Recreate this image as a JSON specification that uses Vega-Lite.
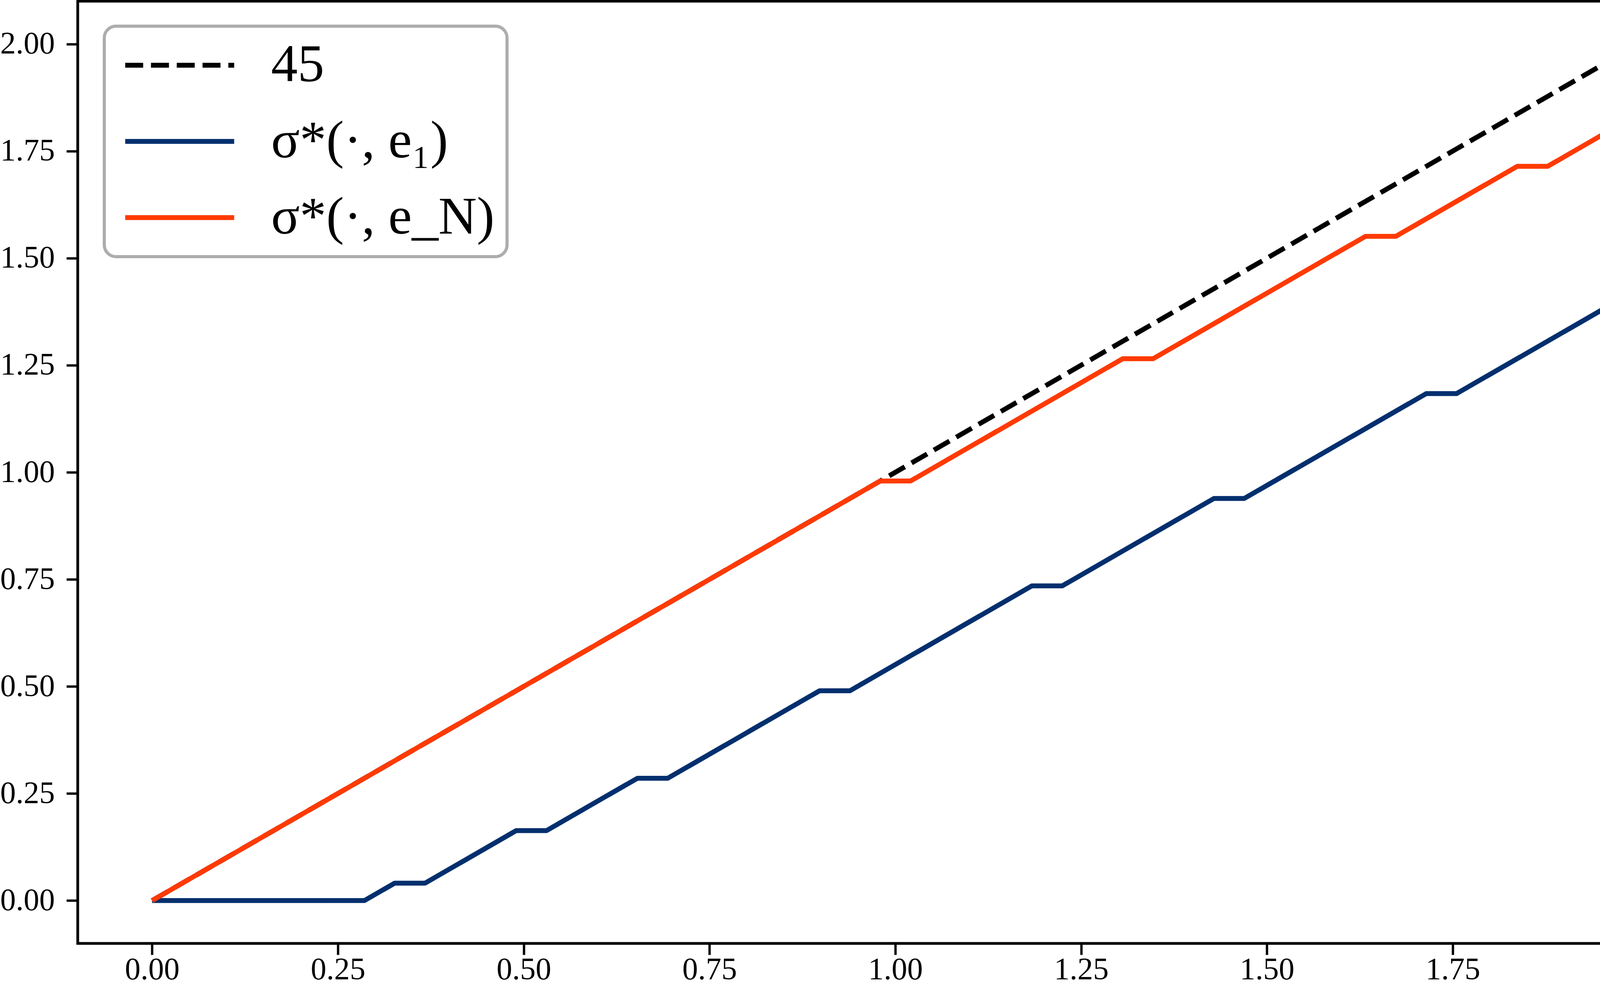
{
  "$schema": "https://vega.github.io/schema/vega-lite/v6.json",
  "description": "45 degree line against sigma*(., e_1) and sigma*(., e_N).",
  "autosize": {"type": "fit", "contains": "padding"},
  "width": 4392,
  "height": 2524,
  "padding": {"left": 0, "top": 3, "right": 7, "bottom": 2},
  "background": "white",
  "config": {
    "font": "Liberation Serif",
    "view": {"stroke": "black", "strokeWidth": 7},
    "axis": {
      "domain": false,
      "grid": false,
      "labelFont": "Liberation Serif",
      "labelFontSize": 80,
      "labelColor": "black",
      "tickColor": "black",
      "tickSize": 29,
      "tickWidth": 6,
      "title": null
    },
    "axisX": {"labelPadding": 62, "labelBaseline": "alphabetic"},
    "axisY": {"labelPadding": 30}
  },
  "data": {
    "values": [
      {"x": 0, "y": 0, "s": "45"},
      {"x": 0.0408, "y": 0.0408, "s": "45"},
      {"x": 0.0816, "y": 0.0816, "s": "45"},
      {"x": 0.1224, "y": 0.1224, "s": "45"},
      {"x": 0.1633, "y": 0.1633, "s": "45"},
      {"x": 0.2041, "y": 0.2041, "s": "45"},
      {"x": 0.2449, "y": 0.2449, "s": "45"},
      {"x": 0.2857, "y": 0.2857, "s": "45"},
      {"x": 0.3265, "y": 0.3265, "s": "45"},
      {"x": 0.3673, "y": 0.3673, "s": "45"},
      {"x": 0.4082, "y": 0.4082, "s": "45"},
      {"x": 0.449, "y": 0.449, "s": "45"},
      {"x": 0.4898, "y": 0.4898, "s": "45"},
      {"x": 0.5306, "y": 0.5306, "s": "45"},
      {"x": 0.5714, "y": 0.5714, "s": "45"},
      {"x": 0.6122, "y": 0.6122, "s": "45"},
      {"x": 0.6531, "y": 0.6531, "s": "45"},
      {"x": 0.6939, "y": 0.6939, "s": "45"},
      {"x": 0.7347, "y": 0.7347, "s": "45"},
      {"x": 0.7755, "y": 0.7755, "s": "45"},
      {"x": 0.8163, "y": 0.8163, "s": "45"},
      {"x": 0.8571, "y": 0.8571, "s": "45"},
      {"x": 0.898, "y": 0.898, "s": "45"},
      {"x": 0.9388, "y": 0.9388, "s": "45"},
      {"x": 0.9796, "y": 0.9796, "s": "45"},
      {"x": 1.0204, "y": 1.0204, "s": "45"},
      {"x": 1.0612, "y": 1.0612, "s": "45"},
      {"x": 1.102, "y": 1.102, "s": "45"},
      {"x": 1.1429, "y": 1.1429, "s": "45"},
      {"x": 1.1837, "y": 1.1837, "s": "45"},
      {"x": 1.2245, "y": 1.2245, "s": "45"},
      {"x": 1.2653, "y": 1.2653, "s": "45"},
      {"x": 1.3061, "y": 1.3061, "s": "45"},
      {"x": 1.3469, "y": 1.3469, "s": "45"},
      {"x": 1.3878, "y": 1.3878, "s": "45"},
      {"x": 1.4286, "y": 1.4286, "s": "45"},
      {"x": 1.4694, "y": 1.4694, "s": "45"},
      {"x": 1.5102, "y": 1.5102, "s": "45"},
      {"x": 1.551, "y": 1.551, "s": "45"},
      {"x": 1.5918, "y": 1.5918, "s": "45"},
      {"x": 1.6327, "y": 1.6327, "s": "45"},
      {"x": 1.6735, "y": 1.6735, "s": "45"},
      {"x": 1.7143, "y": 1.7143, "s": "45"},
      {"x": 1.7551, "y": 1.7551, "s": "45"},
      {"x": 1.7959, "y": 1.7959, "s": "45"},
      {"x": 1.8367, "y": 1.8367, "s": "45"},
      {"x": 1.8776, "y": 1.8776, "s": "45"},
      {"x": 1.9184, "y": 1.9184, "s": "45"},
      {"x": 1.9592, "y": 1.9592, "s": "45"},
      {"x": 2, "y": 2, "s": "45"},

      {"x": 0, "y": 0, "s": "σ*(·, e₁)"},
      {"x": 0.0408, "y": 0, "s": "σ*(·, e₁)"},
      {"x": 0.0816, "y": 0, "s": "σ*(·, e₁)"},
      {"x": 0.1224, "y": 0, "s": "σ*(·, e₁)"},
      {"x": 0.1633, "y": 0, "s": "σ*(·, e₁)"},
      {"x": 0.2041, "y": 0, "s": "σ*(·, e₁)"},
      {"x": 0.2449, "y": 0, "s": "σ*(·, e₁)"},
      {"x": 0.2857, "y": 0, "s": "σ*(·, e₁)"},
      {"x": 0.3265, "y": 0.0408, "s": "σ*(·, e₁)"},
      {"x": 0.3673, "y": 0.0408, "s": "σ*(·, e₁)"},
      {"x": 0.4082, "y": 0.0816, "s": "σ*(·, e₁)"},
      {"x": 0.449, "y": 0.1224, "s": "σ*(·, e₁)"},
      {"x": 0.4898, "y": 0.1633, "s": "σ*(·, e₁)"},
      {"x": 0.5306, "y": 0.1633, "s": "σ*(·, e₁)"},
      {"x": 0.5714, "y": 0.2041, "s": "σ*(·, e₁)"},
      {"x": 0.6122, "y": 0.2449, "s": "σ*(·, e₁)"},
      {"x": 0.6531, "y": 0.2857, "s": "σ*(·, e₁)"},
      {"x": 0.6939, "y": 0.2857, "s": "σ*(·, e₁)"},
      {"x": 0.7347, "y": 0.3265, "s": "σ*(·, e₁)"},
      {"x": 0.7755, "y": 0.3673, "s": "σ*(·, e₁)"},
      {"x": 0.8163, "y": 0.4082, "s": "σ*(·, e₁)"},
      {"x": 0.8571, "y": 0.449, "s": "σ*(·, e₁)"},
      {"x": 0.898, "y": 0.4898, "s": "σ*(·, e₁)"},
      {"x": 0.9388, "y": 0.4898, "s": "σ*(·, e₁)"},
      {"x": 0.9796, "y": 0.5306, "s": "σ*(·, e₁)"},
      {"x": 1.0204, "y": 0.5714, "s": "σ*(·, e₁)"},
      {"x": 1.0612, "y": 0.6122, "s": "σ*(·, e₁)"},
      {"x": 1.102, "y": 0.6531, "s": "σ*(·, e₁)"},
      {"x": 1.1429, "y": 0.6939, "s": "σ*(·, e₁)"},
      {"x": 1.1837, "y": 0.7347, "s": "σ*(·, e₁)"},
      {"x": 1.2245, "y": 0.7347, "s": "σ*(·, e₁)"},
      {"x": 1.2653, "y": 0.7755, "s": "σ*(·, e₁)"},
      {"x": 1.3061, "y": 0.8163, "s": "σ*(·, e₁)"},
      {"x": 1.3469, "y": 0.8571, "s": "σ*(·, e₁)"},
      {"x": 1.3878, "y": 0.898, "s": "σ*(·, e₁)"},
      {"x": 1.4286, "y": 0.9388, "s": "σ*(·, e₁)"},
      {"x": 1.4694, "y": 0.9388, "s": "σ*(·, e₁)"},
      {"x": 1.5102, "y": 0.9796, "s": "σ*(·, e₁)"},
      {"x": 1.551, "y": 1.0204, "s": "σ*(·, e₁)"},
      {"x": 1.5918, "y": 1.0612, "s": "σ*(·, e₁)"},
      {"x": 1.6327, "y": 1.102, "s": "σ*(·, e₁)"},
      {"x": 1.6735, "y": 1.1429, "s": "σ*(·, e₁)"},
      {"x": 1.7143, "y": 1.1837, "s": "σ*(·, e₁)"},
      {"x": 1.7551, "y": 1.1837, "s": "σ*(·, e₁)"},
      {"x": 1.7959, "y": 1.2245, "s": "σ*(·, e₁)"},
      {"x": 1.8367, "y": 1.2653, "s": "σ*(·, e₁)"},
      {"x": 1.8776, "y": 1.3061, "s": "σ*(·, e₁)"},
      {"x": 1.9184, "y": 1.3469, "s": "σ*(·, e₁)"},
      {"x": 1.9592, "y": 1.3878, "s": "σ*(·, e₁)"},
      {"x": 2, "y": 1.3878, "s": "σ*(·, e₁)"},

      {"x": 0, "y": 0, "s": "σ*(·, e_N)"},
      {"x": 0.0408, "y": 0.0408, "s": "σ*(·, e_N)"},
      {"x": 0.0816, "y": 0.0816, "s": "σ*(·, e_N)"},
      {"x": 0.1224, "y": 0.1224, "s": "σ*(·, e_N)"},
      {"x": 0.1633, "y": 0.1633, "s": "σ*(·, e_N)"},
      {"x": 0.2041, "y": 0.2041, "s": "σ*(·, e_N)"},
      {"x": 0.2449, "y": 0.2449, "s": "σ*(·, e_N)"},
      {"x": 0.2857, "y": 0.2857, "s": "σ*(·, e_N)"},
      {"x": 0.3265, "y": 0.3265, "s": "σ*(·, e_N)"},
      {"x": 0.3673, "y": 0.3673, "s": "σ*(·, e_N)"},
      {"x": 0.4082, "y": 0.4082, "s": "σ*(·, e_N)"},
      {"x": 0.449, "y": 0.449, "s": "σ*(·, e_N)"},
      {"x": 0.4898, "y": 0.4898, "s": "σ*(·, e_N)"},
      {"x": 0.5306, "y": 0.5306, "s": "σ*(·, e_N)"},
      {"x": 0.5714, "y": 0.5714, "s": "σ*(·, e_N)"},
      {"x": 0.6122, "y": 0.6122, "s": "σ*(·, e_N)"},
      {"x": 0.6531, "y": 0.6531, "s": "σ*(·, e_N)"},
      {"x": 0.6939, "y": 0.6939, "s": "σ*(·, e_N)"},
      {"x": 0.7347, "y": 0.7347, "s": "σ*(·, e_N)"},
      {"x": 0.7755, "y": 0.7755, "s": "σ*(·, e_N)"},
      {"x": 0.8163, "y": 0.8163, "s": "σ*(·, e_N)"},
      {"x": 0.8571, "y": 0.8571, "s": "σ*(·, e_N)"},
      {"x": 0.898, "y": 0.898, "s": "σ*(·, e_N)"},
      {"x": 0.9388, "y": 0.9388, "s": "σ*(·, e_N)"},
      {"x": 0.9796, "y": 0.9796, "s": "σ*(·, e_N)"},
      {"x": 1.0204, "y": 0.9796, "s": "σ*(·, e_N)"},
      {"x": 1.0612, "y": 1.0204, "s": "σ*(·, e_N)"},
      {"x": 1.102, "y": 1.0612, "s": "σ*(·, e_N)"},
      {"x": 1.1429, "y": 1.102, "s": "σ*(·, e_N)"},
      {"x": 1.1837, "y": 1.1429, "s": "σ*(·, e_N)"},
      {"x": 1.2245, "y": 1.1837, "s": "σ*(·, e_N)"},
      {"x": 1.2653, "y": 1.2245, "s": "σ*(·, e_N)"},
      {"x": 1.3061, "y": 1.2653, "s": "σ*(·, e_N)"},
      {"x": 1.3469, "y": 1.2653, "s": "σ*(·, e_N)"},
      {"x": 1.3878, "y": 1.3061, "s": "σ*(·, e_N)"},
      {"x": 1.4286, "y": 1.3469, "s": "σ*(·, e_N)"},
      {"x": 1.4694, "y": 1.3878, "s": "σ*(·, e_N)"},
      {"x": 1.5102, "y": 1.4286, "s": "σ*(·, e_N)"},
      {"x": 1.551, "y": 1.4694, "s": "σ*(·, e_N)"},
      {"x": 1.5918, "y": 1.5102, "s": "σ*(·, e_N)"},
      {"x": 1.6327, "y": 1.551, "s": "σ*(·, e_N)"},
      {"x": 1.6735, "y": 1.551, "s": "σ*(·, e_N)"},
      {"x": 1.7143, "y": 1.5918, "s": "σ*(·, e_N)"},
      {"x": 1.7551, "y": 1.6327, "s": "σ*(·, e_N)"},
      {"x": 1.7959, "y": 1.6735, "s": "σ*(·, e_N)"},
      {"x": 1.8367, "y": 1.7143, "s": "σ*(·, e_N)"},
      {"x": 1.8776, "y": 1.7143, "s": "σ*(·, e_N)"},
      {"x": 1.9184, "y": 1.7551, "s": "σ*(·, e_N)"},
      {"x": 1.9592, "y": 1.7959, "s": "σ*(·, e_N)"},
      {"x": 2, "y": 1.8367, "s": "σ*(·, e_N)"}
    ]
  },
  "mark": {"type": "line", "strokeWidth": 12.5, "strokeJoin": "round"},
  "encoding": {
    "x": {
      "field": "x",
      "type": "quantitative",
      "scale": {"domain": [-0.1, 2.1], "nice": false, "zero": false},
      "axis": {"values": [0, 0.25, 0.5, 0.75, 1, 1.25, 1.5, 1.75, 2], "format": ".2f"}
    },
    "y": {
      "field": "y",
      "type": "quantitative",
      "scale": {"domain": [-0.1, 2.1], "nice": false, "zero": false},
      "axis": {"values": [0, 0.25, 0.5, 0.75, 1, 1.25, 1.5, 1.75, 2], "format": ".2f"}
    },
    "color": {
      "field": "s",
      "type": "nominal",
      "scale": {
        "domain": ["45", "σ*(·, e₁)", "σ*(·, e_N)"],
        "range": ["#000000", "#022f6e", "#ff3a03"]
      },
      "legend": {
        "title": null,
        "orient": "none",
        "legendX": 68,
        "legendY": 64,
        "symbolType": "M-1,0H5",
        "symbolSize": 8649,
        "symbolStrokeWidth": 12.5,
        "labelFont": "Liberation Serif",
        "labelFontSize": 136,
        "labelColor": "black",
        "labelOffset": 259,
        "labelLimit": 0,
        "rowPadding": 59,
        "padding": 32,
        "fillColor": "white",
        "strokeColor": "#adadad",
        "cornerRadius": 30,
        "encode": {
          "legend": {"update": {"strokeWidth": {"value": 8}}}
        }
      }
    },
    "strokeDash": {
      "field": "s",
      "type": "nominal",
      "scale": {
        "domain": ["45", "σ*(·, e₁)", "σ*(·, e_N)"],
        "range": [[46, 20], [1, 0], [1, 0]]
      },
      "legend": {"title": null}
    }
  }
}
